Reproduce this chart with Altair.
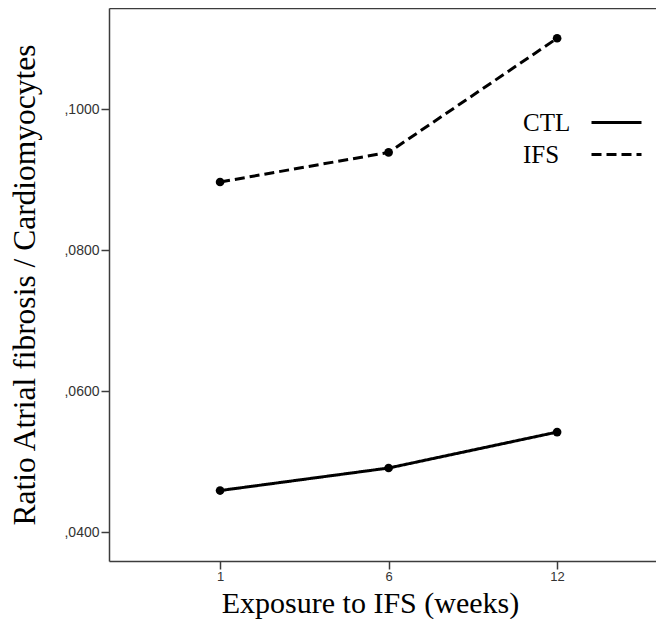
import altair as alt
import pandas as pd

weeks = ["1", "6", "12"]
groups = ["CTL", "IFS"]
ctl = [0.0459, 0.0491, 0.0542]
ifs = [0.0897, 0.0939, 0.1101]
y_ticks = [0.04, 0.06, 0.08, 0.10]

rows = []
for g, vals in zip(groups, [ctl, ifs]):
    for w, v in zip(weeks, vals):
        rows.append({"week": w, "group": g, "ratio": v})
df = pd.DataFrame(rows)

SERIF = "Liberation Serif"
SANS = "Liberation Sans"
AX = "#3c3c3c"
X_SCALE = alt.Scale(type="point", padding=0.623, align=0.529)

x_enc = alt.X(
    "week:O",
    sort=weeks,
    scale=X_SCALE,
    axis=alt.Axis(
        title="Exposure to IFS (weeks)",
        labelAngle=0,
        labelFont=SANS,
        labelFontSize=13,
        labelColor="#333333",
        labelPadding=1,
        tickSize=8,
        tickWidth=1.5,
        tickColor=AX,
        domainColor=AX,
        domainWidth=1.5,
        titleFont=SERIF,
        titleFontSize=30,
        titleFontWeight="normal",
        titleColor="black",
        titlePadding=5,
        titleX=261,
        titleAlign="center",
        grid=False,
    ),
)

y_enc = alt.Y(
    "ratio:Q",
    scale=alt.Scale(domain=[0.0359, 0.1144], nice=False, zero=False),
    axis=alt.Axis(
        title="Ratio Atrial fibrosis / Cardiomyocytes",
        values=y_ticks,
        labelExpr="replace(format(datum.value, '.4f'), '0.', ',')",
        labelFont=SANS,
        labelFontSize=14,
        labelColor="#333333",
        labelPadding=2,
        tickSize=8,
        tickWidth=1.5,
        tickColor=AX,
        domainColor=AX,
        domainWidth=1.5,
        titleFont=SERIF,
        titleFontSize=31.5,
        titleFontWeight="normal",
        titleColor="black",
        titlePadding=22,
        grid=False,
    ),
)

lines = alt.Chart(df).mark_line(color="black", strokeWidth=3).encode(
    x=x_enc,
    y=y_enc,
    strokeDash=alt.StrokeDash(
        "group:N",
        scale=alt.Scale(domain=groups, range=[[1, 0], [10, 5]]),
        legend=alt.Legend(
            title=None,
            orient="none",
            legendX=389,
            legendY=102,
            padding=0,
            symbolType="M8.1,0H13.1",
            symbolSize=400,
            symbolStrokeWidth=3,
            symbolStrokeColor="black",
            labelFont=SERIF,
            labelFontSize=25,
            labelColor="black",
            labelAlign="left",
            labelOffset=0,
            rowPadding=6,
        ),
    ),
)

points = alt.Chart(df).mark_circle(color="black", size=75, opacity=1).encode(
    x=alt.X("week:O", sort=weeks),
    y=alt.Y("ratio:Q"),
    detail="group:N",
)

data_layer = alt.layer(lines, points)

top_frame = alt.Chart(df).mark_point(opacity=0).encode(
    x=alt.X(
        "week:O",
        sort=weeks,
        scale=X_SCALE,
        axis=alt.Axis(
            orient="top",
            title=None,
            labels=False,
            ticks=False,
            domainColor=AX,
            domainWidth=1.5,
            grid=False,
        ),
    ),
    y=alt.Y("ratio:Q"),
)

chart = (
    alt.layer(data_layer, top_frame)
    .resolve_scale(x="independent")
    .properties(
        width=547,
        height=553,
        autosize=alt.AutoSizeParams(type="none"),
        padding={"left": 101, "top": 0, "right": 0, "bottom": 58},
        background="white",
    )
    .configure_view(strokeWidth=0)
)

chart.save("out.html", embed_options={"renderer": "svg", "actions": False})
